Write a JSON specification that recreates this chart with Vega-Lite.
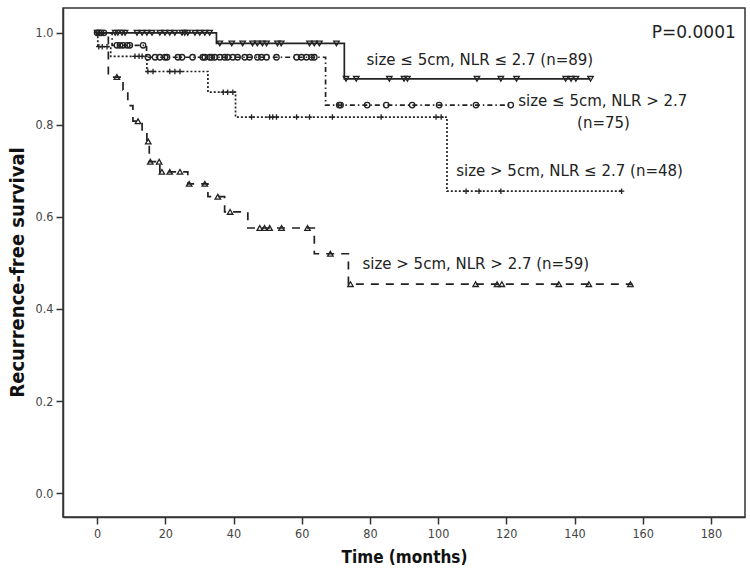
{
  "$schema": "https://vega.github.io/schema/vega-lite/v6.json",
  "width": 682,
  "height": 509,
  "autosize": {"type": "none"},
  "padding": {"left": 63, "top": 8, "right": 5, "bottom": 61},
  "background": "white",
  "config": {
    "view": {"stroke": "#333", "strokeWidth": 1.5},
    "font": "DejaVu Sans",
    "axis": {
      "grid": false,
      "domainColor": "#333",
      "domainWidth": 1.5,
      "tickColor": "#333",
      "tickWidth": 1.5,
      "tickSize": 7,
      "labelFont": "DejaVu Sans Condensed, Liberation Sans Narrow, Roboto Condensed, DejaVu Sans, sans-serif",
      "labelFontSize": 12.5,
      "labelColor": "#444",
      "titleFont": "DejaVu Sans Condensed, Liberation Sans Narrow, Roboto Condensed, DejaVu Sans, sans-serif",
      "titleFontSize": 17,
      "titleFontWeight": "bold",
      "titleColor": "#111"
    }
  },
  "datasets": {
    "steps": [
      {"curve": "A", "t": 0, "s": 1.0},
      {"curve": "A", "t": 35, "s": 0.977},
      {"curve": "A", "t": 72.5, "s": 0.90},
      {"curve": "A", "t": 144.7, "s": 0.90},
      {"curve": "B", "t": 0, "s": 1.0},
      {"curve": "B", "t": 4.4, "s": 0.973},
      {"curve": "B", "t": 14.5, "s": 0.947},
      {"curve": "B", "t": 67, "s": 0.843},
      {"curve": "B", "t": 121.3, "s": 0.843},
      {"curve": "C", "t": 0, "s": 1.0},
      {"curve": "C", "t": 0.2, "s": 0.97},
      {"curve": "C", "t": 4, "s": 0.949},
      {"curve": "C", "t": 14.6, "s": 0.916},
      {"curve": "C", "t": 32.5, "s": 0.871},
      {"curve": "C", "t": 40.6, "s": 0.817},
      {"curve": "C", "t": 102.6, "s": 0.656},
      {"curve": "C", "t": 153.8, "s": 0.656},
      {"curve": "D", "t": 0, "s": 1.0},
      {"curve": "D", "t": 3.3, "s": 0.904},
      {"curve": "D", "t": 7.6, "s": 0.876},
      {"curve": "D", "t": 9, "s": 0.842},
      {"curve": "D", "t": 10.5, "s": 0.808},
      {"curve": "D", "t": 13.2, "s": 0.786},
      {"curve": "D", "t": 14.6, "s": 0.764},
      {"curve": "D", "t": 15.3, "s": 0.72},
      {"curve": "D", "t": 18.4, "s": 0.698},
      {"curve": "D", "t": 26.6, "s": 0.672},
      {"curve": "D", "t": 32.5, "s": 0.644},
      {"curve": "D", "t": 37.4, "s": 0.611},
      {"curve": "D", "t": 44.2, "s": 0.576},
      {"curve": "D", "t": 63.7, "s": 0.52},
      {"curve": "D", "t": 73.7, "s": 0.454},
      {"curve": "D", "t": 157, "s": 0.454}
    ],
    "censor": [
      {"curve": "A", "t": 0, "s": 1.0}, {"curve": "A", "t": 5.3, "s": 1.0}, {"curve": "A", "t": 6.1, "s": 1.0}, {"curve": "A", "t": 7.3, "s": 1.0}, {"curve": "A", "t": 8.2, "s": 1.0}, {"curve": "A", "t": 11.7, "s": 1.0}, {"curve": "A", "t": 13.2, "s": 1.0}, {"curve": "A", "t": 14.6, "s": 1.0}, {"curve": "A", "t": 16.1, "s": 1.0}, {"curve": "A", "t": 18.4, "s": 1.0}, {"curve": "A", "t": 19.9, "s": 1.0}, {"curve": "A", "t": 21.3, "s": 1.0}, {"curve": "A", "t": 22.8, "s": 1.0}, {"curve": "A", "t": 24.9, "s": 1.0}, {"curve": "A", "t": 25.7, "s": 1.0}, {"curve": "A", "t": 26.6, "s": 1.0}, {"curve": "A", "t": 28.7, "s": 1.0}, {"curve": "A", "t": 30.1, "s": 1.0}, {"curve": "A", "t": 31.6, "s": 1.0}, {"curve": "A", "t": 33, "s": 1.0},
      {"curve": "A", "t": 36, "s": 0.977}, {"curve": "A", "t": 39.5, "s": 0.977}, {"curve": "A", "t": 42.7, "s": 0.977}, {"curve": "A", "t": 45.6, "s": 0.977}, {"curve": "A", "t": 47, "s": 0.977}, {"curve": "A", "t": 48.5, "s": 0.977}, {"curve": "A", "t": 49.7, "s": 0.977}, {"curve": "A", "t": 52.9, "s": 0.977}, {"curve": "A", "t": 54, "s": 0.977}, {"curve": "A", "t": 62.3, "s": 0.977}, {"curve": "A", "t": 63.7, "s": 0.977}, {"curve": "A", "t": 65.2, "s": 0.977}, {"curve": "A", "t": 70.2, "s": 0.977},
      {"curve": "A", "t": 73, "s": 0.90}, {"curve": "A", "t": 76, "s": 0.90}, {"curve": "A", "t": 85.7, "s": 0.90}, {"curve": "A", "t": 90, "s": 0.90}, {"curve": "A", "t": 91, "s": 0.90}, {"curve": "A", "t": 111.4, "s": 0.90}, {"curve": "A", "t": 118.4, "s": 0.90}, {"curve": "A", "t": 123, "s": 0.90}, {"curve": "A", "t": 137.4, "s": 0.90}, {"curve": "A", "t": 139, "s": 0.90}, {"curve": "A", "t": 140.4, "s": 0.90}, {"curve": "A", "t": 144.7, "s": 0.90},
      {"curve": "B", "t": 0, "s": 1.0}, {"curve": "B", "t": 0.6, "s": 1.0}, {"curve": "B", "t": 1.2, "s": 1.0}, {"curve": "B", "t": 2, "s": 1.0},
      {"curve": "B", "t": 5.8, "s": 0.973}, {"curve": "B", "t": 6.7, "s": 0.973}, {"curve": "B", "t": 7.6, "s": 0.973}, {"curve": "B", "t": 8.8, "s": 0.973}, {"curve": "B", "t": 9.6, "s": 0.973}, {"curve": "B", "t": 13.5, "s": 0.973},
      {"curve": "B", "t": 14.9, "s": 0.947}, {"curve": "B", "t": 17, "s": 0.947}, {"curve": "B", "t": 18.4, "s": 0.947}, {"curve": "B", "t": 19.9, "s": 0.947}, {"curve": "B", "t": 20.5, "s": 0.947}, {"curve": "B", "t": 23.7, "s": 0.947}, {"curve": "B", "t": 24.9, "s": 0.947}, {"curve": "B", "t": 28, "s": 0.947}, {"curve": "B", "t": 31, "s": 0.947}, {"curve": "B", "t": 31.6, "s": 0.947}, {"curve": "B", "t": 33, "s": 0.947}, {"curve": "B", "t": 33.6, "s": 0.947}, {"curve": "B", "t": 34.5, "s": 0.947}, {"curve": "B", "t": 36, "s": 0.947}, {"curve": "B", "t": 37.4, "s": 0.947}, {"curve": "B", "t": 38.3, "s": 0.947}, {"curve": "B", "t": 39.8, "s": 0.947}, {"curve": "B", "t": 41.2, "s": 0.947}, {"curve": "B", "t": 43.3, "s": 0.947}, {"curve": "B", "t": 44.7, "s": 0.947}, {"curve": "B", "t": 47, "s": 0.947}, {"curve": "B", "t": 48.2, "s": 0.947}, {"curve": "B", "t": 49.7, "s": 0.947}, {"curve": "B", "t": 52.6, "s": 0.947}, {"curve": "B", "t": 58.5, "s": 0.947}, {"curve": "B", "t": 59.9, "s": 0.947}, {"curve": "B", "t": 61.4, "s": 0.947}, {"curve": "B", "t": 62.9, "s": 0.947}, {"curve": "B", "t": 63.7, "s": 0.947},
      {"curve": "B", "t": 71, "s": 0.843}, {"curve": "B", "t": 71.4, "s": 0.843}, {"curve": "B", "t": 79.2, "s": 0.843}, {"curve": "B", "t": 84.8, "s": 0.843}, {"curve": "B", "t": 92.4, "s": 0.843}, {"curve": "B", "t": 100.3, "s": 0.843}, {"curve": "B", "t": 111.1, "s": 0.843}, {"curve": "B", "t": 121.3, "s": 0.843},
      {"curve": "C", "t": 0.5, "s": 0.97}, {"curve": "C", "t": 1.5, "s": 0.97}, {"curve": "C", "t": 2.9, "s": 0.97},
      {"curve": "C", "t": 11.1, "s": 0.949}, {"curve": "C", "t": 12.3, "s": 0.949}, {"curve": "C", "t": 13.2, "s": 0.949},
      {"curve": "C", "t": 14.9, "s": 0.916}, {"curve": "C", "t": 16.4, "s": 0.916}, {"curve": "C", "t": 21.3, "s": 0.916}, {"curve": "C", "t": 22.8, "s": 0.916}, {"curve": "C", "t": 24.3, "s": 0.916},
      {"curve": "C", "t": 37, "s": 0.871}, {"curve": "C", "t": 38.3, "s": 0.871}, {"curve": "C", "t": 39.8, "s": 0.871},
      {"curve": "C", "t": 45.3, "s": 0.817}, {"curve": "C", "t": 50.6, "s": 0.817}, {"curve": "C", "t": 51.5, "s": 0.817}, {"curve": "C", "t": 52.6, "s": 0.817}, {"curve": "C", "t": 58.5, "s": 0.817}, {"curve": "C", "t": 62.3, "s": 0.817}, {"curve": "C", "t": 69, "s": 0.817}, {"curve": "C", "t": 83.3, "s": 0.817}, {"curve": "C", "t": 99.4, "s": 0.817}, {"curve": "C", "t": 100.9, "s": 0.817},
      {"curve": "C", "t": 108.2, "s": 0.656}, {"curve": "C", "t": 112, "s": 0.656}, {"curve": "C", "t": 118.4, "s": 0.656}, {"curve": "C", "t": 153.8, "s": 0.656},
      {"curve": "D", "t": 5.8, "s": 0.904}, {"curve": "D", "t": 12, "s": 0.808}, {"curve": "D", "t": 15, "s": 0.764}, {"curve": "D", "t": 15.6, "s": 0.72}, {"curve": "D", "t": 18.2, "s": 0.72}, {"curve": "D", "t": 19, "s": 0.698}, {"curve": "D", "t": 21.3, "s": 0.698}, {"curve": "D", "t": 24.3, "s": 0.698}, {"curve": "D", "t": 27, "s": 0.672}, {"curve": "D", "t": 31.6, "s": 0.672}, {"curve": "D", "t": 35.4, "s": 0.644}, {"curve": "D", "t": 39, "s": 0.611}, {"curve": "D", "t": 47.7, "s": 0.576}, {"curve": "D", "t": 49.1, "s": 0.576}, {"curve": "D", "t": 50.6, "s": 0.576}, {"curve": "D", "t": 54.1, "s": 0.576}, {"curve": "D", "t": 61.7, "s": 0.576}, {"curve": "D", "t": 68.4, "s": 0.52}, {"curve": "D", "t": 74.3, "s": 0.454}, {"curve": "D", "t": 111, "s": 0.454}, {"curve": "D", "t": 117.3, "s": 0.454}, {"curve": "D", "t": 118.7, "s": 0.454}, {"curve": "D", "t": 135.4, "s": 0.454}, {"curve": "D", "t": 144.2, "s": 0.454}, {"curve": "D", "t": 156.4, "s": 0.454}
    ]
  },
  "layer": [
    {
      "data": {"name": "steps"},
      "mark": {"type": "line", "interpolate": "step-after", "color": "#222", "strokeWidth": 1.7},
      "encoding": {
        "x": {
          "field": "t", "type": "quantitative",
          "scale": {"domain": [-10, 190], "nice": false, "zero": false},
          "axis": {"values": [0, 20, 40, 60, 80, 100, 120, 140, 160, 180], "title": "Time (months)", "labelPadding": 3, "titlePadding": 10}
        },
        "y": {
          "field": "s", "type": "quantitative",
          "scale": {"domain": [-0.052, 1.054], "nice": false, "zero": false},
          "axis": {"values": [0, 0.2, 0.4, 0.6, 0.8, 1.0], "format": ".1f", "title": "Recurrence-free survival", "titleFontSize": 20, "titleY": 264, "labelPadding": 3, "titlePadding": 8}
        },
        "strokeDash": {
          "field": "curve", "type": "nominal", "legend": null,
          "scale": {"domain": ["A", "B", "C", "D"], "range": [[1, 0], [5, 3, 1.5, 3], [2, 2], [8, 7]]}
        }
      }
    },
    {
      "data": {"name": "censor"},
      "mark": {"type": "point", "filled": false, "color": "#222", "strokeWidth": 1.3, "size": 30, "opacity": 1},
      "encoding": {
        "x": {"field": "t", "type": "quantitative"},
        "y": {"field": "s", "type": "quantitative"},
        "shape": {
          "field": "curve", "type": "nominal", "legend": null,
          "scale": {"domain": ["A", "B", "C", "D"], "range": ["triangle-down", "circle", "M-1,0H1M0,-1V1", "triangle-up"]}
        }
      }
    },
    {
      "data": {"values": [
        {"t": 79, "s": 0.941, "text": "size ≤ 5cm, NLR ≤ 2.7 (n=89)"},
        {"t": 123.5, "s": 0.851, "text": "size ≤ 5cm, NLR > 2.7"},
        {"t": 105.3, "s": 0.699, "text": "size > 5cm, NLR ≤ 2.7 (n=48)"},
        {"t": 77.8, "s": 0.498, "text": "size > 5cm, NLR > 2.7 (n=59)"}
      ]},
      "mark": {"type": "text", "align": "left", "baseline": "middle", "font": "DejaVu Sans", "fontSize": 15, "color": "#222"},
      "encoding": {
        "x": {"field": "t", "type": "quantitative"},
        "y": {"field": "s", "type": "quantitative"},
        "text": {"field": "text"}
      }
    },
    {
      "data": {"values": [{"t": 148.5, "s": 0.805, "text": "(n=75)"}]},
      "mark": {"type": "text", "align": "center", "baseline": "middle", "font": "DejaVu Sans", "fontSize": 15, "color": "#222"},
      "encoding": {
        "x": {"field": "t", "type": "quantitative"},
        "y": {"field": "s", "type": "quantitative"},
        "text": {"field": "text"}
      }
    },
    {
      "data": {"values": [{"t": 187.3, "s": 1.0, "text": "P=0.0001"}]},
      "mark": {"type": "text", "align": "right", "baseline": "middle", "font": "DejaVu Sans", "fontSize": 17, "color": "#222"},
      "encoding": {
        "x": {"field": "t", "type": "quantitative"},
        "y": {"field": "s", "type": "quantitative"},
        "text": {"field": "text"}
      }
    }
  ]
}
